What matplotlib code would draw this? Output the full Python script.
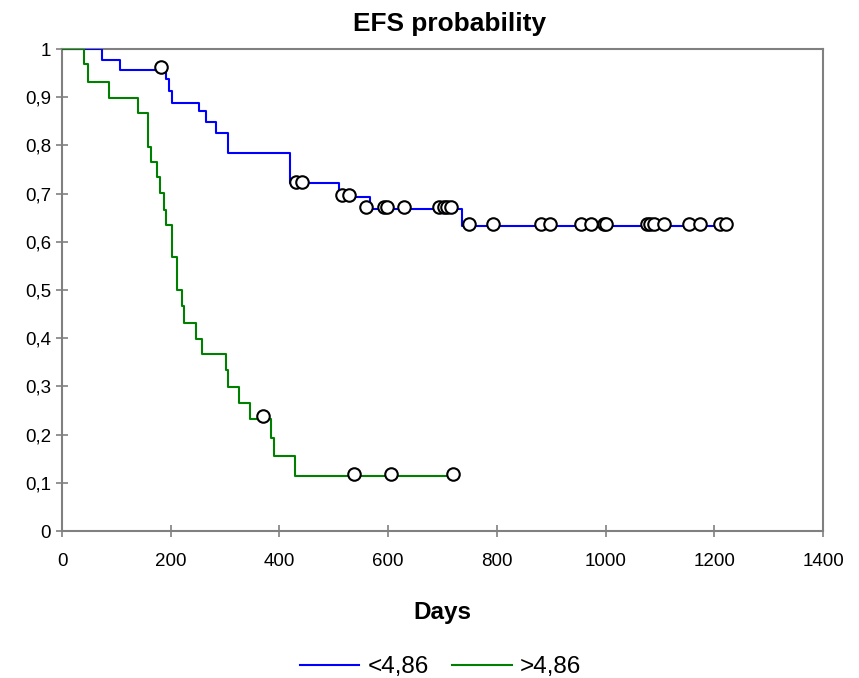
import matplotlib
matplotlib.use("Agg")
import matplotlib.pyplot as plt

# ---- data ----
blue_label = "<4,86"
blue_event_days = [74, 106, 192, 196, 203, 252, 264, 284, 305, 419, 509, 566, 736]
blue_surv = [0.977, 0.957, 0.937, 0.913, 0.889, 0.871, 0.849, 0.826, 0.784, 0.721, 0.692, 0.669, 0.633]
blue_end_day = 1222
blue_censor_days = [183, 430, 441, 515, 528, 560, 592, 597, 630, 693, 702, 709, 715,
                    748, 792, 881, 897, 955, 973, 997, 1000, 1076, 1081, 1089, 1108,
                    1153, 1173, 1210, 1222]
blue_censor_surv = [0.963, 0.725, 0.725, 0.697, 0.697, 0.673, 0.673, 0.673, 0.673, 0.673,
                    0.673, 0.673, 0.673, 0.637, 0.637, 0.637, 0.637, 0.637, 0.637, 0.637,
                    0.637, 0.637, 0.637, 0.637, 0.637, 0.637, 0.637, 0.637, 0.637]

green_label = ">4,86"
green_event_days = [41, 48, 86, 139, 159, 164, 175, 180, 187, 191, 203, 212, 220, 224,
                    247, 257, 302, 305, 326, 346, 385, 390, 428]
green_surv = [0.968, 0.931, 0.898, 0.868, 0.797, 0.765, 0.735, 0.702, 0.665, 0.634, 0.568,
              0.501, 0.467, 0.431, 0.398, 0.367, 0.334, 0.298, 0.266, 0.233, 0.192, 0.156, 0.115]
green_end_day = 720
green_censor_days = [370, 537, 606, 720]
green_censor_surv = [0.238, 0.119, 0.119, 0.119]

x_ticks = [0, 200, 400, 600, 800, 1000, 1200, 1400]
y_ticks = [0, 0.1, 0.2, 0.3, 0.4, 0.5, 0.6, 0.7, 0.8, 0.9, 1.0]
y_tick_labels = ["0", "0,1", "0,2", "0,3", "0,4", "0,5", "0,6", "0,7", "0,8", "0,9", "1"]

plt.rcParams['font.family'] = ['Liberation Sans', 'DejaVu Sans']

fig = plt.figure(figsize=(8.59, 6.78), dpi=100)
ax = fig.add_axes([62/859, 1-531/678, (823-62)/859, (531-49)/678])

def steps(days, surv, end):
    xs = [0] + list(days) + [end]
    ys = [1.0] + list(surv) + [surv[-1]]
    return xs, ys

bx, by = steps(blue_event_days, blue_surv, blue_end_day)
gx, gy = steps(green_event_days, green_surv, green_end_day)

lb, = ax.step(bx, by, where='post', color='#0000FF', lw=1.5, label=blue_label, zorder=3)
lg, = ax.step(gx, gy, where='post', color='#008000', lw=1.5, label=green_label, zorder=4)

ax.plot(blue_censor_days, blue_censor_surv, linestyle='none', marker='o', markersize=9,
        markerfacecolor='white', markeredgecolor='black', markeredgewidth=1.5, zorder=5)
ax.plot(green_censor_days, green_censor_surv, linestyle='none', marker='o', markersize=9,
        markerfacecolor='white', markeredgecolor='black', markeredgewidth=1.5, zorder=5)

ax.set_xlim(0, 1400)
ax.set_ylim(0, 1)
ax.set_xticks(x_ticks)
ax.set_xticklabels([str(t) for t in x_ticks])
ax.set_yticks(y_ticks)
ax.set_yticklabels(y_tick_labels)

for s in ax.spines.values():
    s.set_color('#808080')
    s.set_linewidth(1.5)
ax.tick_params(axis='both', colors='#808080', labelcolor='black', labelsize=13.5,
               width=1.2, length=8, direction='inout')
ax.tick_params(axis='x', pad=12)
ax.tick_params(axis='y', pad=4)

ax.set_title("EFS probability", fontsize=18.9, fontweight='bold', pad=13, x=0.509)
ax.set_xlabel("Days", fontsize=17.5, fontweight='bold', labelpad=22)

fig.legend(handles=[lb, lg], loc='center', bbox_to_anchor=(440.5/859, 1-667/678), ncol=2,
           frameon=False, fontsize=17.5, handlelength=2.45, handletextpad=0.35,
           columnspacing=0.95)

fig.savefig("out.png", dpi=100)
